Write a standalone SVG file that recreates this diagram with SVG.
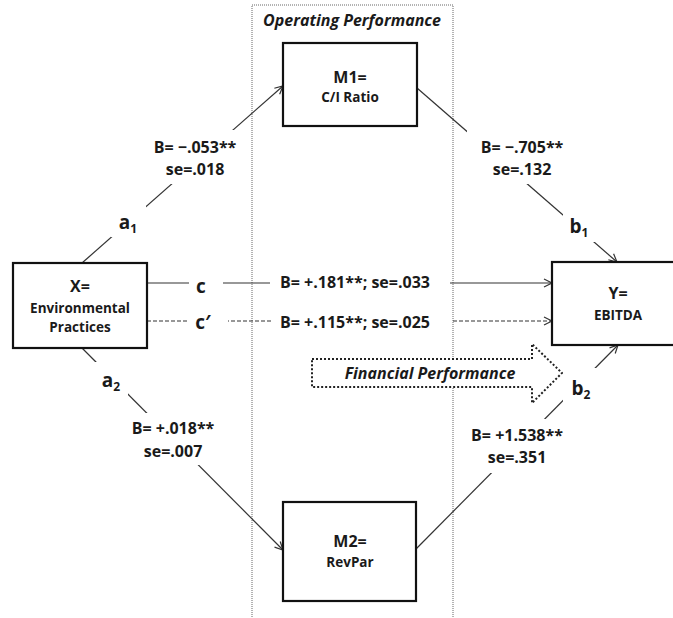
<svg xmlns="http://www.w3.org/2000/svg" width="673" height="618" viewBox="0 0 673 618">
<style>
.box{fill:#fff;stroke:#111;stroke-width:2.2}
.ln{fill:none;stroke:#333;stroke-width:1.2}
.dash{stroke-dasharray:4 2}
.lbg{fill:#fff;stroke:none}
.t{font-family:"Open Sans","Liberation Sans",sans-serif;font-weight:bold;fill:#1a1a1a;text-anchor:middle}
.h{font-size:16px}
.s{font-size:13.5px}
.lb{font-size:16px}
.p{font-size:19px}
.sub{font-size:12px}
.it{font-size:16px;font-style:italic}
</style>
<defs>
<marker id="arr" markerUnits="userSpaceOnUse" markerWidth="12" markerHeight="12" refX="9" refY="5" orient="auto" viewBox="0 0 12 10">
<path d="M1,1 L9,5 L1,9" fill="none" stroke="#333" stroke-width="1.2"/>
</marker>
</defs>
<g id="region-operating">
<rect x="252" y="5" width="201" height="640" fill="none" stroke="#666" stroke-width="1" stroke-dasharray="1 1"/>
<text class="t it" x="352" y="26">Operating Performance</text>
</g>
<g id="region-financial">
<polygon points="312,359 532,359 532,344 562,373 532,403 532,387 312,387" fill="#fff" stroke="#222" stroke-width="2" stroke-dasharray="2 2"/>
<text class="t it" x="430" y="379">Financial Performance</text>
</g>
<g id="connectors">
<line class="ln" x1="82" y1="263" x2="283" y2="86" marker-end="url(#arr)"/>
<line class="ln" x1="417" y1="88" x2="617" y2="262" marker-end="url(#arr)"/>
<line class="ln" x1="147" y1="283" x2="552" y2="283" marker-end="url(#arr)"/>
<line class="ln dash" x1="147" y1="321" x2="552" y2="321" marker-end="url(#arr)"/>
<line class="ln" x1="82" y1="348" x2="283" y2="550" marker-end="url(#arr)"/>
<line class="ln" x1="416" y1="549" x2="618" y2="345" marker-end="url(#arr)"/>
</g>
<g id="labels">
<rect class="lbg" x="111" y="203" width="35" height="34"/>
<rect class="lbg" x="141" y="130" width="108" height="54"/>
<rect class="lbg" x="467" y="130" width="110" height="54"/>
<rect class="lbg" x="563" y="208" width="34" height="34"/>
<rect class="lbg" x="189" y="271" width="34" height="30"/>
<rect class="lbg" x="189" y="308" width="39" height="32"/>
<rect class="lbg" x="270" y="265" width="180" height="35"/>
<rect class="lbg" x="271" y="306" width="181" height="30"/>
<rect class="lbg" x="93" y="362" width="35" height="34"/>
<rect class="lbg" x="122" y="413" width="101" height="52"/>
<rect class="lbg" x="563" y="368" width="34" height="34"/>
<rect class="lbg" x="459" y="419" width="117" height="54"/>
<text class="t p" x="128" y="229">a<tspan class="sub" dy="4">1</tspan></text>
<text class="t lb" x="195" y="153">B= −.053**</text>
<text class="t lb" x="195" y="175">se=.018</text>
<text class="t lb" x="522" y="153">B= −.705**</text>
<text class="t lb" x="522" y="175">se=.132</text>
<text class="t p" x="579" y="233">b<tspan class="sub" dy="4">1</tspan></text>
<text class="t p" x="201" y="293">c</text>
<text class="t p" x="203" y="329">c′</text>
<text class="t lb" x="355" y="288">B= +.181**; se=.033</text>
<text class="t lb" x="355" y="328">B= +.115**; se=.025</text>
<text class="t p" x="111" y="387">a<tspan class="sub" dy="4">2</tspan></text>
<text class="t lb" x="173" y="434">B= +.018**</text>
<text class="t lb" x="173" y="457">se=.007</text>
<text class="t p" x="581" y="395">b<tspan class="sub" dy="4">2</tspan></text>
<text class="t lb" x="517" y="441">B= +1.538**</text>
<text class="t lb" x="517" y="463">se=.351</text>
</g>
<g id="node-X">
<rect class="box" x="13" y="263" width="134" height="85"/>
<text class="t h" x="80" y="292">X=</text>
<text class="t s" x="80" y="313">Environmental</text>
<text class="t s" x="80" y="332">Practices</text>
</g>
<g id="node-M1">
<rect class="box" x="283" y="43" width="134" height="83"/>
<text class="t h" x="350" y="83">M1=</text>
<text class="t s" x="350" y="102">C/I Ratio</text>
</g>
<g id="node-M2">
<rect class="box" x="283" y="502" width="133" height="99"/>
<text class="t h" x="350" y="547">M2=</text>
<text class="t s" x="350" y="567">RevPar</text>
</g>
<g id="node-Y">
<rect class="box" x="552" y="262" width="132" height="83"/>
<text class="t h" x="618" y="299">Y=</text>
<text class="t s" x="618" y="320">EBITDA</text>
</g>
</svg>
